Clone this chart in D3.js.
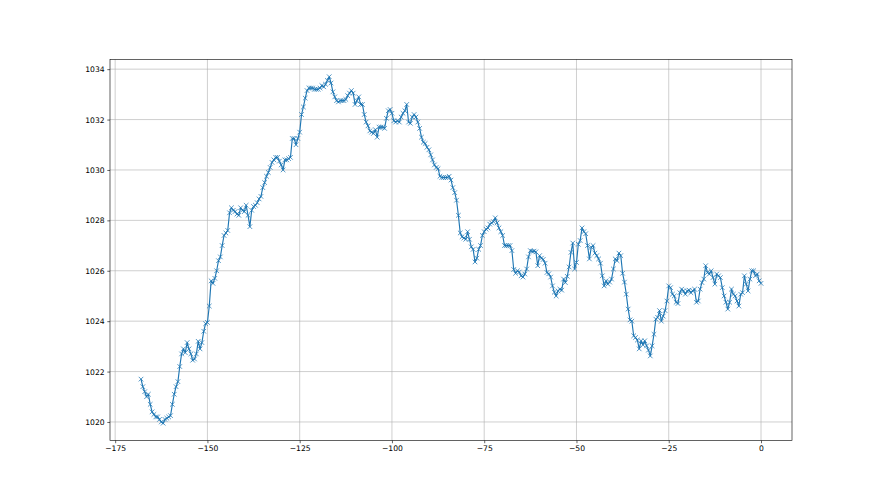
<!DOCTYPE html>
<html>
<head>
<meta charset="utf-8">
<script src="https://cdn.jsdelivr.net/npm/d3@7"></script>
<style>
  html, body { margin: 0; padding: 0; background: #ffffff; }
  svg { display: block; }
  text { font-family: "DejaVu Sans", sans-serif; }
</style>
</head>
<body>
<svg id="chart" width="880" height="495"></svg>
<script>
// ---- data (pressure readings, one every half hour, hours relative to now) ----
const pressureStart = [
  1021.7, 1021.4, 1021.2, 1021.0, 1021.1, 1020.7, 1020.4, 1020.3, 1020.2, 1020.2,
  1020.1, 1020.0, 1019.95, 1020.1, 1020.15, 1020.2, 1020.25, 1020.7, 1021.1, 1021.4,
  1021.6, 1022.2, 1022.7, 1022.9, 1022.75, 1023.15, 1022.9, 1022.7, 1022.45, 1022.5,
  1022.7, 1023.2, 1022.9, 1023.15, 1023.6, 1023.9
];
const pressureMiddle = [
  1023.95, 1024.6, 1025.6, 1025.5, 1025.7, 1026.0, 1026.4, 1026.55, 1027.0, 1027.4,
  1027.5, 1027.6, 1028.3, 1028.5, 1028.4, 1028.35, 1028.25, 1028.2, 1028.5, 1028.4,
  1028.35, 1028.6, 1028.2, 1027.75, 1028.4, 1028.55, 1028.6, 1028.7, 1028.85, 1028.95,
  1029.3, 1029.5, 1029.75, 1029.9, 1030.1, 1030.3, 1030.4, 1030.5, 1030.5, 1030.35,
  1030.2, 1030.0, 1030.4, 1030.4, 1030.45, 1030.5, 1031.25, 1031.25, 1031.0, 1031.25,
  1031.5, 1032.2, 1032.5, 1032.85, 1033.15, 1033.25, 1033.25, 1033.25, 1033.2, 1033.2,
  1033.2, 1033.25, 1033.35, 1033.3, 1033.4, 1033.55, 1033.7, 1033.45, 1033.1, 1032.9,
  1032.75, 1032.7, 1032.75, 1032.75, 1032.75, 1032.8, 1032.95, 1033.05, 1033.15, 1033.05,
  1032.6, 1032.75, 1032.9, 1032.6, 1032.6, 1032.2, 1031.9, 1031.75, 1031.55, 1031.5,
  1031.45, 1031.6, 1031.3, 1031.7, 1031.7, 1031.7, 1031.65, 1032.05, 1032.35, 1032.4,
  1032.25, 1031.95, 1031.9, 1031.95, 1031.9, 1032.1, 1032.25, 1032.35, 1032.6, 1031.9,
  1031.85, 1032.1, 1032.2, 1032.1, 1031.9, 1031.65, 1031.3, 1031.1, 1031.05, 1030.9,
  1030.8, 1030.6, 1030.4, 1030.2, 1030.1, 1030.05, 1029.75, 1029.7, 1029.7, 1029.7,
  1029.7, 1029.75, 1029.6, 1029.3, 1029.1, 1028.8, 1028.2, 1027.5, 1027.35, 1027.3,
  1027.25, 1027.55, 1027.25, 1026.95, 1026.85, 1026.35, 1026.5, 1026.85, 1027.0, 1027.4,
  1027.55, 1027.65, 1027.7, 1027.85, 1027.9, 1027.95, 1028.1, 1027.9, 1027.7, 1027.55,
  1027.4, 1027.0, 1027.0, 1027.0, 1027.0, 1026.8, 1026.05, 1025.9, 1026.0, 1025.95,
  1025.8, 1025.75, 1025.87, 1026.07, 1026.55, 1026.8, 1026.77, 1026.78, 1026.75, 1026.2,
  1026.6, 1026.5, 1026.45, 1026.3, 1025.93, 1025.88, 1025.75, 1025.4, 1025.15, 1025.0,
  1025.2, 1025.27, 1025.23, 1025.67, 1025.53, 1025.78, 1026.15
];
const pressureEnd = [
  1026.73, 1027.1, 1026.07, 1026.33, 1027.05, 1027.2, 1027.7, 1027.55, 1027.47, 1027.0,
  1026.47, 1026.93, 1027.0, 1026.7, 1026.6, 1026.47, 1026.3, 1025.8, 1025.4, 1025.6,
  1025.47, 1025.55, 1025.67, 1026.07, 1026.47, 1026.4, 1026.7, 1026.6, 1025.9, 1025.55,
  1025.07, 1024.48, 1024.05, 1024.0, 1023.42, 1023.35, 1023.25, 1022.9, 1023.22, 1023.06,
  1023.22, 1023.02, 1022.85, 1022.62, 1023.02, 1023.48, 1024.08, 1024.15, 1024.42, 1024.0,
  1024.2, 1024.42, 1024.8, 1025.4, 1025.33, 1025.07, 1025.0, 1024.75, 1024.7, 1025.13,
  1025.27, 1025.2, 1025.07, 1025.2, 1025.23, 1025.13, 1025.2, 1025.27, 1024.75, 1024.8,
  1025.27, 1025.53, 1025.67, 1026.2, 1025.93, 1025.87, 1026.0, 1025.73, 1025.47, 1025.87,
  1025.8, 1025.73, 1025.33, 1025.0, 1024.75, 1024.48, 1024.75, 1025.27, 1025.07, 1025.0,
  1024.8, 1024.6, 1025.07, 1025.13, 1025.8, 1025.47, 1025.2, 1025.67, 1026.0, 1026.0,
  1025.8, 1025.87, 1025.6, 1025.5
];
const pressure = pressureStart.concat(pressureMiddle, pressureEnd);
const firstHour = -168;
const lastHour = 0;
// readings are evenly spaced in time between firstHour and lastHour
const hours = pressure.map((_, i) => firstHour + i * (lastHour - firstHour) / (pressure.length - 1));
const xTicks = [-175, -150, -125, -100, -75, -50, -25, 0];
const yTicks = [1020, 1022, 1024, 1026, 1028, 1030, 1032, 1034];

(function () {
  // ---- layout (matplotlib default subplot params) ----
  const W = 880, H = 495;
  const axLeft = 0.125 * W, axRight = 0.9 * W, axTop = (1 - 0.88) * H, axBottom = (1 - 0.11) * H;
  const k = 0.55 * 1.3889; // pt -> px
  const color = "#1f77b4";

  const svg = d3.select("#chart");
  svg.append("rect").attr("width", W).attr("height", H).attr("fill", "#ffffff");

  const xPad = 0.05 * (lastHour - firstHour);
  const yMin = d3.min(pressure), yMax = d3.max(pressure);
  const yPad = 0.05 * (yMax - yMin);
  const x = d3.scaleLinear().domain([firstHour - xPad, lastHour + xPad]).range([axLeft, axRight]);
  const y = d3.scaleLinear().domain([yMin - yPad, yMax + yPad]).range([axBottom, axTop]);

  const fmt = v => String(v).replace("-", "\u2212");
  const fontPx = 10 * k;
  const tickLen = 3.5 * k;

  // grid
  const grid = svg.append("g");
  grid.selectAll("line.gx").data(xTicks).join("line").attr("class", "gx")
    .attr("x1", d => x(d)).attr("x2", d => x(d)).attr("y1", axTop).attr("y2", axBottom)
    .attr("stroke", "#b0b0b0").attr("stroke-width", 0.8 * k);
  grid.selectAll("line.gy").data(yTicks).join("line").attr("class", "gy")
    .attr("x1", axLeft).attr("x2", axRight).attr("y1", d => y(d)).attr("y2", d => y(d))
    .attr("stroke", "#b0b0b0").attr("stroke-width", 0.8 * k);

  // axes
  const xAxis = d3.axisBottom(x).tickValues(xTicks).tickFormat(fmt).tickSizeInner(tickLen).tickSizeOuter(0).tickPadding(3.5 * k);
  const yAxis = d3.axisLeft(y).tickValues(yTicks).tickFormat(fmt).tickSizeInner(tickLen).tickSizeOuter(0).tickPadding(3.5 * k);
  const gx = svg.append("g").attr("transform", `translate(0,${axBottom})`).call(xAxis);
  const gy = svg.append("g").attr("transform", `translate(${axLeft},0)`).call(yAxis);
  [gx, gy].forEach(g => {
    g.select(".domain").remove();
    g.selectAll(".tick line").attr("stroke", "#000").attr("stroke-width", 0.8 * k);
    g.selectAll(".tick text").attr("fill", "#000").style("font-size", fontPx + "px")
      .style("font-family", "'DejaVu Sans', sans-serif");
  });

  // data line
  const plot = svg.append("g");
  plot.append("path")
    .datum(pressure)
    .attr("fill", "none")
    .attr("stroke", color)
    .attr("stroke-width", 1.5 * k)
    .attr("stroke-linejoin", "round")
    .attr("d", d3.line().x((d, i) => x(hours[i])).y(d => y(d)));

  // 'x' markers
  const ms = 6 * k / 2;
  plot.selectAll("path.mk").data(pressure).join("path")
    .attr("class", "mk")
    .attr("d", (d, i) => {
      const cx = x(hours[i]), cy = y(d);
      return `M${cx - ms},${cy - ms}L${cx + ms},${cy + ms}M${cx - ms},${cy + ms}L${cx + ms},${cy - ms}`;
    })
    .attr("stroke", color)
    .attr("stroke-width", 1 * k)
    .attr("fill", "none");

  // spines
  svg.append("rect")
    .attr("x", axLeft).attr("y", axTop).attr("width", axRight - axLeft).attr("height", axBottom - axTop)
    .attr("fill", "none").attr("stroke", "#000").attr("stroke-width", 0.8 * k);
})();
</script>
</body>
</html>
